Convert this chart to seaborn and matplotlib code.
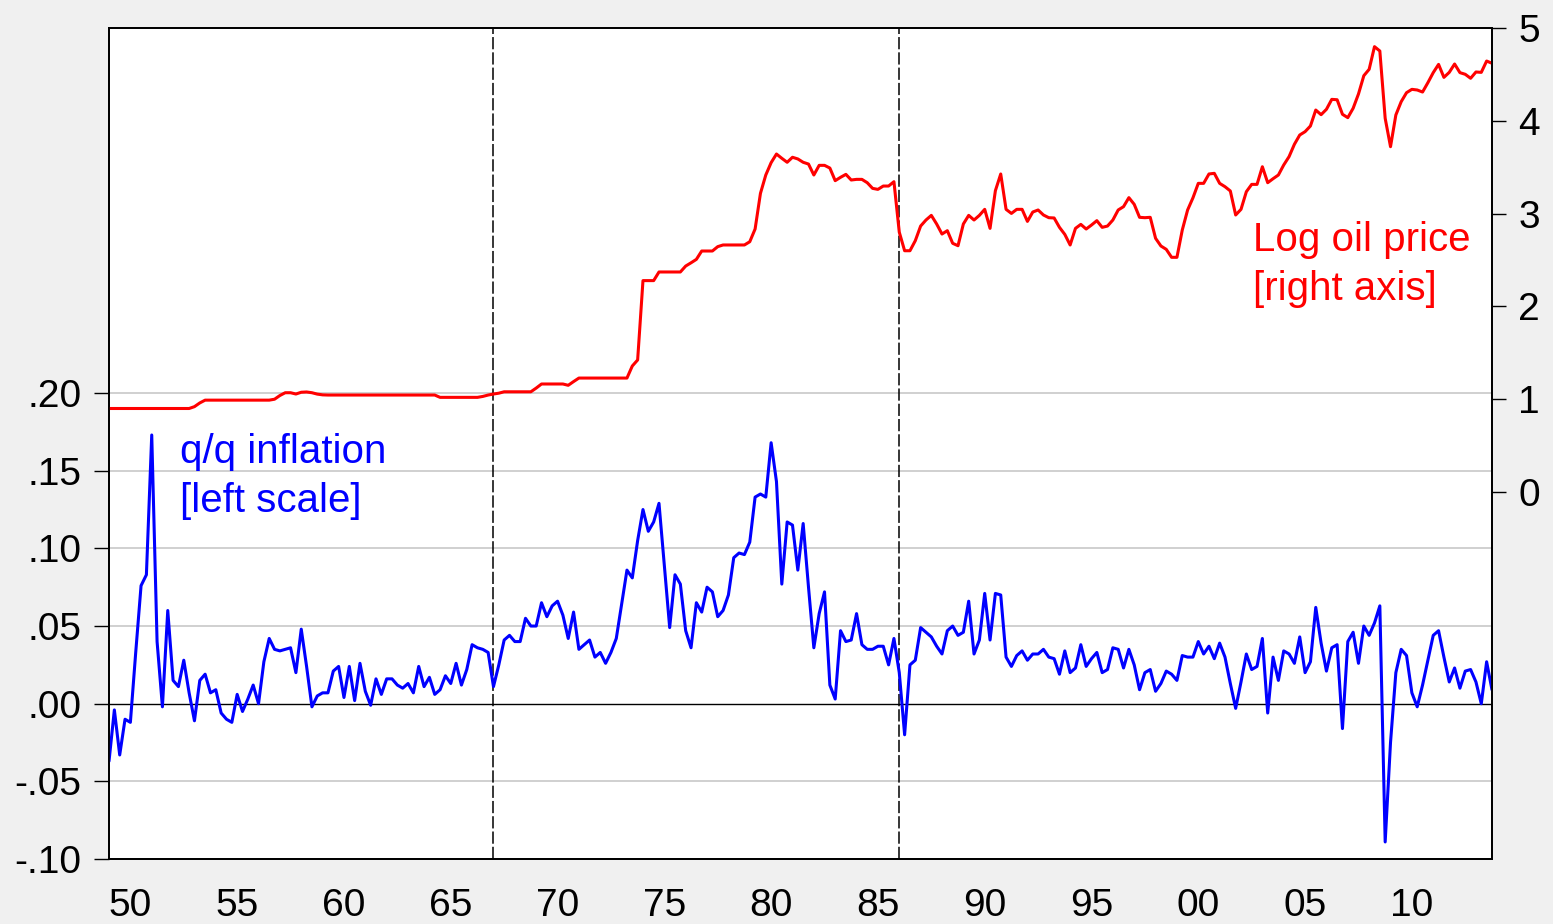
import numpy as np
import pandas as pd
import matplotlib
matplotlib.use("Agg")
import matplotlib.pyplot as plt
import seaborn as sns

# quarterly data, first observation 1949Q1
start_year = 1949

# q/q inflation (left scale)
inflation = [
    -0.037, -0.004, -0.033, -0.010, -0.012, 0.033, 0.076, 0.083, 0.173, 0.040,
    -0.002, 0.060, 0.015, 0.011, 0.028, 0.007, -0.011, 0.015, 0.019, 0.007,
    0.009, -0.006, -0.010, -0.012, 0.006, -0.005, 0.003, 0.012, 0.000, 0.027,
    0.042, 0.035, 0.034, 0.035, 0.036, 0.020, 0.048, 0.024, -0.002, 0.005,
    0.007, 0.007, 0.021, 0.024, 0.004, 0.024, 0.002, 0.026, 0.008, -0.001,
    0.016, 0.006, 0.016, 0.016, 0.012, 0.010, 0.013, 0.007, 0.024, 0.011,
    0.017, 0.006, 0.009, 0.018, 0.013, 0.026, 0.012, 0.022, 0.038, 0.036,
    0.035, 0.033, 0.011, 0.025, 0.041, 0.044, 0.040, 0.040, 0.055, 0.050,
    0.050, 0.065, 0.056, 0.063, 0.066, 0.057, 0.042, 0.059, 0.035, 0.038,
    0.041, 0.030, 0.033, 0.026, 0.033, 0.042, 0.064, 0.086, 0.081, 0.105,
    0.125, 0.111, 0.117, 0.129, 0.089, 0.049, 0.083, 0.077, 0.047, 0.036,
    0.065, 0.059, 0.075, 0.072, 0.056, 0.060, 0.070, 0.094, 0.097, 0.096,
    0.104, 0.133, 0.135, 0.133, 0.168, 0.143, 0.077, 0.117, 0.115, 0.086,
    0.116, 0.075, 0.036, 0.058, 0.072, 0.012, 0.003, 0.047, 0.040, 0.041,
    0.058, 0.038, 0.035, 0.035, 0.037, 0.037, 0.025, 0.042, 0.020, -0.020,
    0.025, 0.028, 0.049, 0.046, 0.043, 0.037, 0.032, 0.047, 0.050, 0.044,
    0.046, 0.066, 0.032, 0.041, 0.071, 0.041, 0.071, 0.070, 0.030, 0.024,
    0.031, 0.034, 0.028, 0.032, 0.032, 0.035, 0.030, 0.029, 0.019, 0.034,
    0.020, 0.023, 0.038, 0.024, 0.029, 0.033, 0.020, 0.022, 0.036, 0.035,
    0.023, 0.035, 0.025, 0.009, 0.020, 0.022, 0.008, 0.013, 0.021, 0.019,
    0.015, 0.031, 0.030, 0.030, 0.040, 0.032, 0.037, 0.029, 0.039, 0.030,
    0.013, -0.003, 0.014, 0.032, 0.022, 0.024, 0.042, -0.006, 0.030, 0.015,
    0.034, 0.032, 0.026, 0.043, 0.020, 0.027, 0.062, 0.039, 0.021, 0.036,
    0.038, -0.016, 0.040, 0.046, 0.026, 0.050, 0.044, 0.052, 0.063, -0.089,
    -0.025, 0.020, 0.035, 0.031, 0.007, -0.002, 0.012, 0.028, 0.044, 0.047,
    0.030, 0.014, 0.023, 0.010, 0.021, 0.022, 0.014, 0.000, 0.027, 0.009,
]

# log oil price (right axis)
log_oil = [
    0.90, 0.90, 0.90, 0.90, 0.90, 0.90, 0.90, 0.90, 0.90, 0.90,
    0.90, 0.90, 0.90, 0.90, 0.90, 0.90, 0.92, 0.96, 0.99, 0.99,
    0.99, 0.99, 0.99, 0.99, 0.99, 0.99, 0.99, 0.99, 0.99, 0.99,
    0.99, 1.00, 1.04, 1.07, 1.07, 1.056, 1.075, 1.078, 1.07, 1.055,
    1.047, 1.045, 1.045, 1.045, 1.045, 1.045, 1.045, 1.045, 1.045, 1.045,
    1.045, 1.045, 1.045, 1.045, 1.045, 1.045, 1.045, 1.045, 1.045, 1.045,
    1.045, 1.045, 1.02, 1.02, 1.02, 1.02, 1.02, 1.02, 1.02, 1.02,
    1.03, 1.045, 1.056, 1.065, 1.08, 1.08, 1.08, 1.08, 1.08, 1.08,
    1.12, 1.164, 1.164, 1.164, 1.164, 1.164, 1.15, 1.19, 1.228, 1.228,
    1.228, 1.228, 1.228, 1.228, 1.228, 1.228, 1.228, 1.228, 1.358, 1.423,
    2.278, 2.278, 2.278, 2.371, 2.371, 2.371, 2.371, 2.371, 2.435, 2.47,
    2.507, 2.597, 2.597, 2.597, 2.644, 2.662, 2.662, 2.662, 2.662, 2.662,
    2.697, 2.834, 3.218, 3.416, 3.549, 3.642, 3.596, 3.553, 3.607, 3.589,
    3.553, 3.534, 3.416, 3.520, 3.520, 3.491, 3.355, 3.391, 3.423, 3.362,
    3.369, 3.369, 3.333, 3.272, 3.261, 3.297, 3.297, 3.344, 2.80, 2.60,
    2.60, 2.708, 2.866, 2.931, 2.981, 2.888, 2.780, 2.816, 2.680, 2.654,
    2.888, 2.981, 2.931, 2.981, 3.046, 2.841, 3.247, 3.427, 3.046, 3.002,
    3.046, 3.046, 2.916, 3.017, 3.039, 2.985, 2.956, 2.953, 2.852, 2.776,
    2.662, 2.841, 2.884, 2.834, 2.877, 2.924, 2.852, 2.866, 2.931, 3.039,
    3.075, 3.172, 3.100, 2.960, 2.956, 2.960, 2.734, 2.651, 2.615, 2.529,
    2.529, 2.823, 3.039, 3.170, 3.326, 3.326, 3.427, 3.434, 3.326, 3.290,
    3.244, 2.985, 3.046, 3.236, 3.315, 3.315, 3.505, 3.333, 3.376, 3.416,
    3.524, 3.614, 3.747, 3.847, 3.883, 3.944, 4.116, 4.066, 4.124, 4.231,
    4.227, 4.070, 4.034, 4.135, 4.289, 4.486, 4.555, 4.799, 4.752, 4.027,
    3.721, 4.063, 4.206, 4.303, 4.339, 4.332, 4.310, 4.411, 4.519, 4.608,
    4.468, 4.522, 4.612, 4.519, 4.501, 4.458, 4.526, 4.522, 4.644, 4.620,
]

break_years = [1967, 1986]
left_ticks = [-0.10, -0.05, 0.00, 0.05, 0.10, 0.15, 0.20]
left_labels = ["-.10", "-.05", ".00", ".05", ".10", ".15", ".20"]
right_ticks = [0, 1, 2, 3, 4, 5]
x_ticks = list(range(1950, 2011, 5))
x_labels = ["50", "55", "60", "65", "70", "75", "80", "85", "90", "95", "00", "05", "10"]

df = pd.DataFrame({
    "date": start_year + np.arange(len(inflation)) / 4.0,
    "inflation": inflation,
    "log_oil": log_oil,
})

sns.set_style("white")
plt.rcParams["font.family"] = ["Liberation Sans", "DejaVu Sans"]

fig = plt.figure(figsize=(15.53, 9.24), dpi=100, facecolor="#f0f0f0")
ax = fig.add_axes([0.0702, 0.0703, 0.8905, 0.8994])
ax.set_facecolor("white")

# left scale: inflation
for v in left_ticks:
    if v == 0:
        ax.axhline(v, color="black", lw=1.0, zorder=1)
    else:
        ax.axhline(v, color="#c8c8c8", lw=1.2, zorder=0)
for yr in break_years:
    ax.axvline(yr, color="black", lw=1.1, linestyle=(0, (8, 2)), zorder=1)

sns.lineplot(data=df, x="date", y="inflation", ax=ax, color="#0000ff",
             linewidth=2.2, zorder=3)
ax.set_xlim(1949, 2013.75)
ax.set_ylim(-0.10, 0.435)
ax.set_yticks(left_ticks)
ax.set_yticklabels(left_labels)
ax.set_xticks(x_ticks)
ax.set_xticklabels(x_labels)
ax.set_xticks(range(1949, 2014), minor=True)
ax.set_xlabel("")
ax.set_ylabel("")
ax.tick_params(axis="x", which="major", direction="out", length=14, width=1.2,
               labelsize=28, pad=7, colors="black")
ax.tick_params(axis="x", which="minor", direction="out", length=7, width=1.0)
ax.tick_params(axis="y", direction="out", length=11, width=1.0, labelsize=28,
               pad=9, colors="black")

# right axis: log oil price
ax2 = ax.twinx()
sns.lineplot(data=df, x="date", y="log_oil", ax=ax2, color="#ff0000",
             linewidth=2.2)
ax2.set_ylim(5 - 831 / 92.8, 5)
ax2.set_yticks(right_ticks)
ax2.set_ylabel("")
ax2.tick_params(axis="y", direction="out", length=10, width=1.0, labelsize=28,
                pad=9, colors="black")
ax2.set_xlim(1949, 2013.75)

for a in (ax, ax2):
    for s in a.spines.values():
        s.set_color("black")
        s.set_linewidth(1.3)

ax.text(0.0513, 0.513, "q/q inflation\n[left scale]", transform=ax.transAxes,
        color="#0000ff", fontsize=29, va="top", ha="left", linespacing=1.38)
ax2.text(0.827, 0.768, "Log oil price\n[right axis]", transform=ax.transAxes,
         color="#ff0000", fontsize=29, va="top", ha="left", linespacing=1.38)

fig.savefig("out.png", dpi=100, facecolor=fig.get_facecolor())
